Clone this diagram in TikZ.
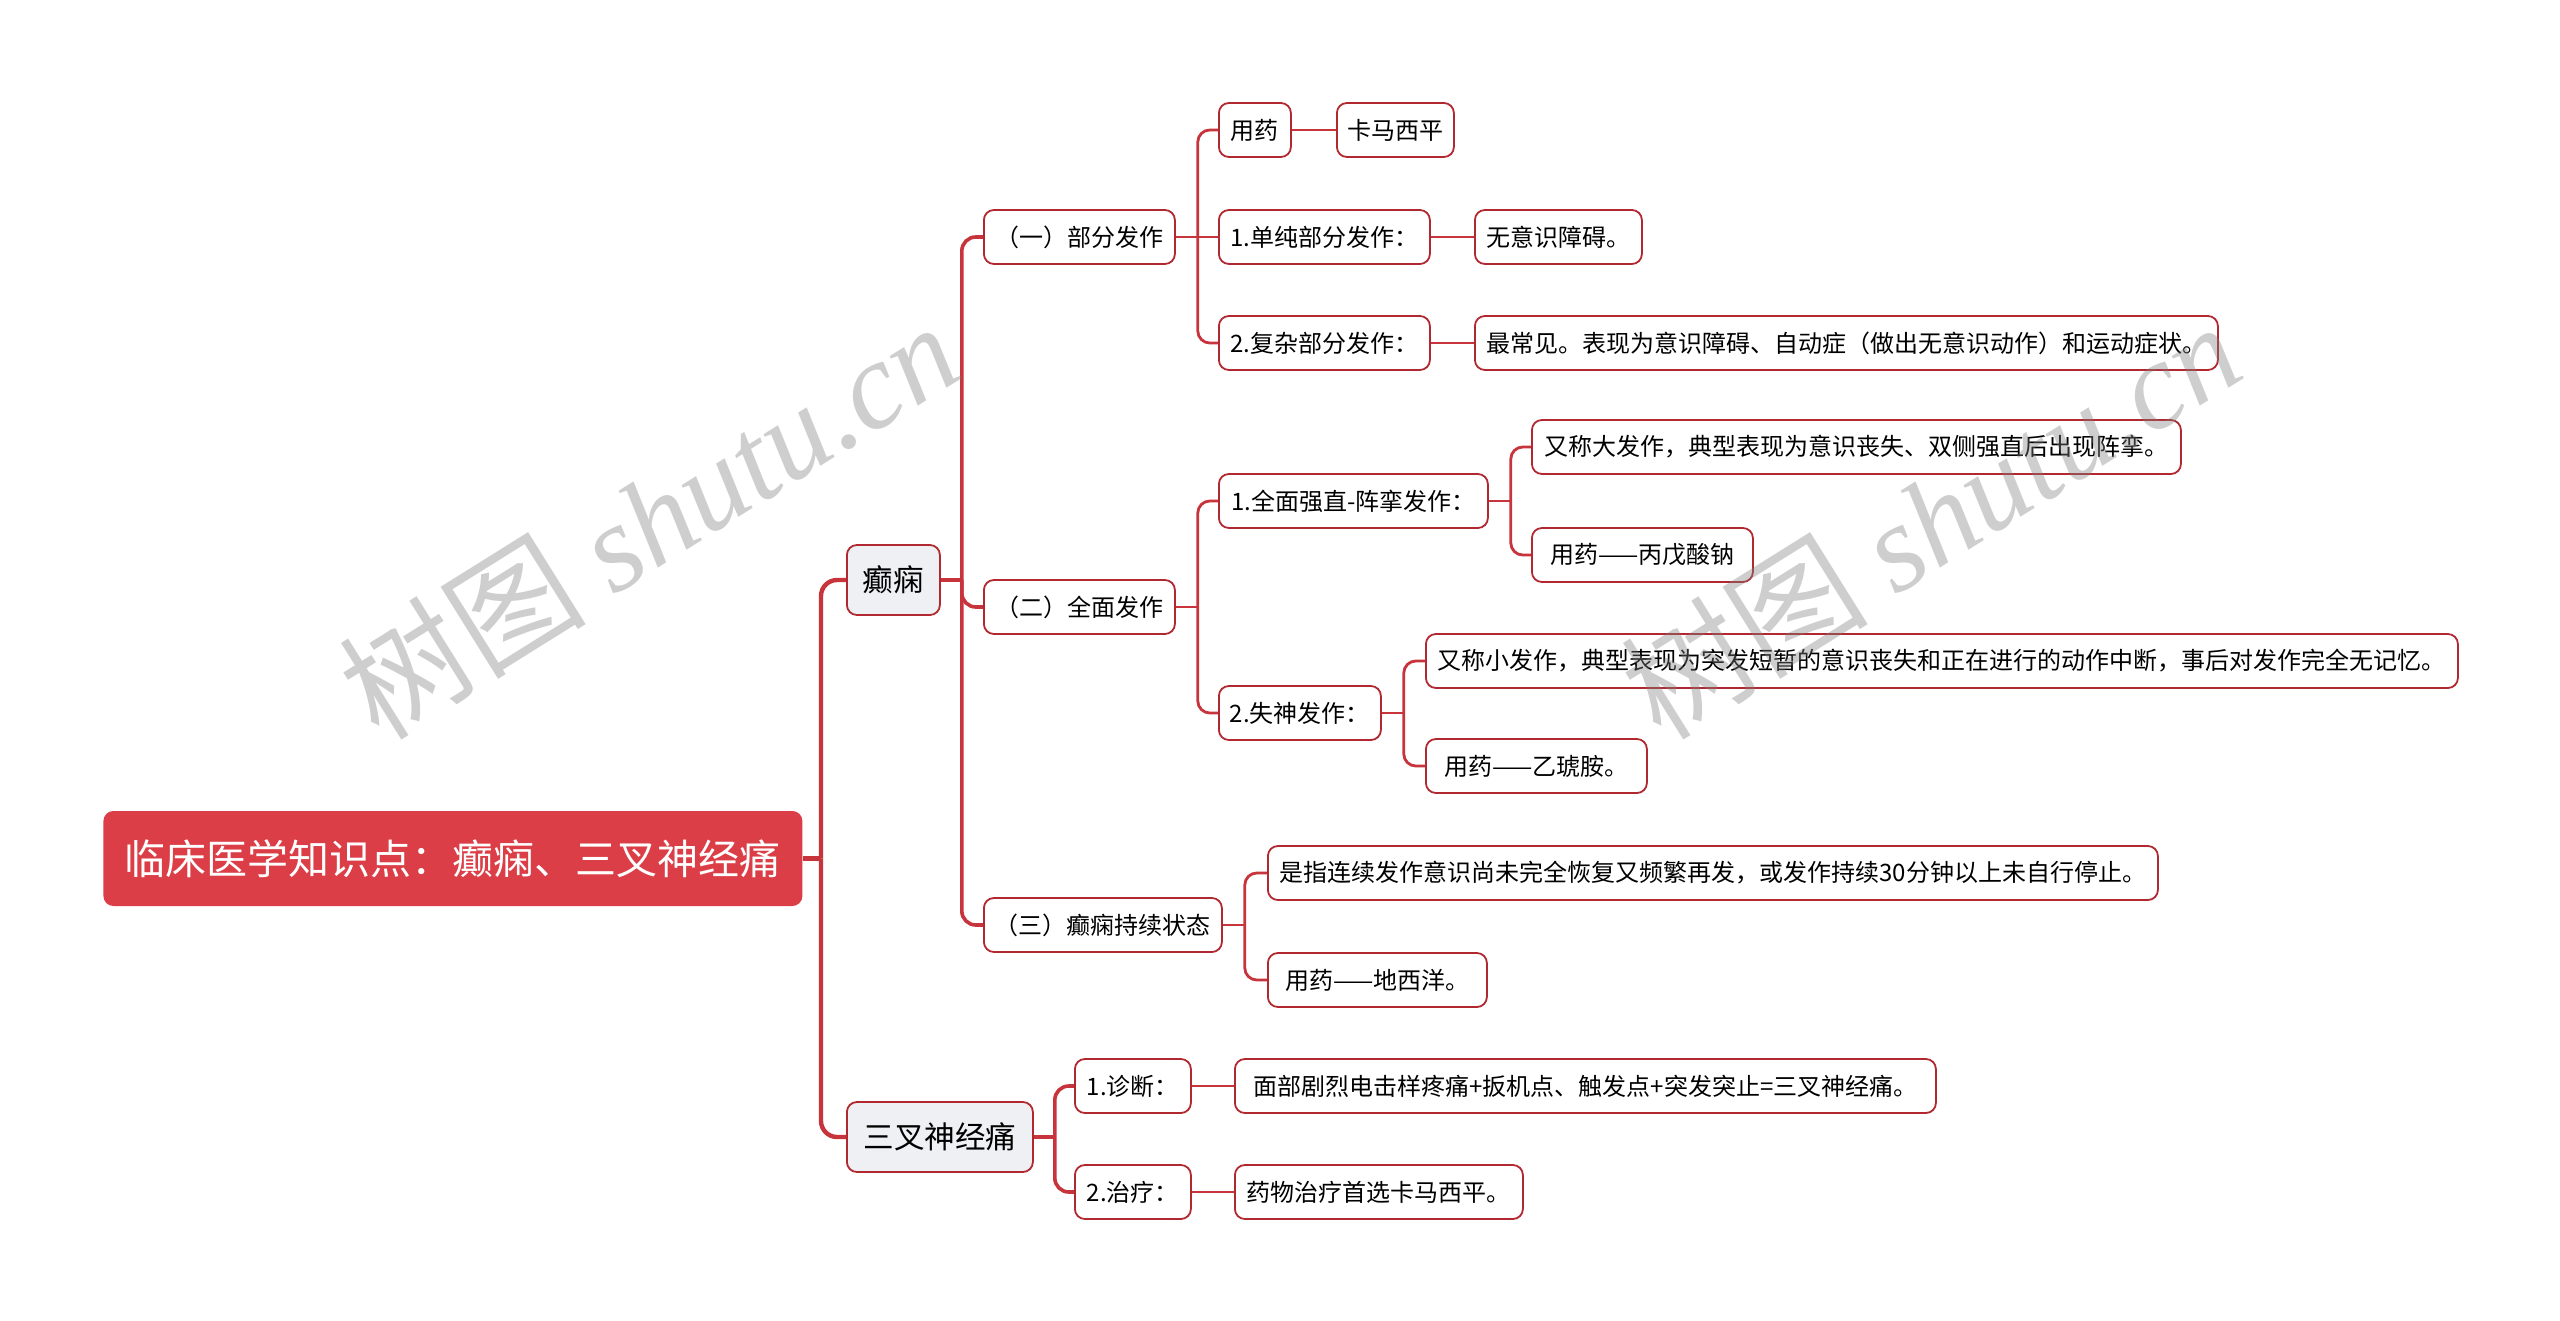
\documentclass[tikz,border=0pt]{standalone}
\usepackage{fontspec}
\setmainfont{Noto Sans CJK SC}
\newfontfamily\wmlatin{Liberation Serif}
\newfontfamily\wmcjk{Noto Sans CJK SC}
\definecolor{rootred}{RGB}{219,62,70}
\definecolor{bordred}{RGB}{178,40,48}
\definecolor{linered}{RGB}{200,52,60}
\definecolor{lvlfill}{RGB}{238,240,244}
\tikzset{
  box/.style={draw=bordred, line width=0.9pt, rounded corners=5pt, fill=white,
    font=\fontsize{12pt}{14pt}\selectfont, minimum height=27pt, inner xsep=5pt, anchor=west},
  lvlone/.style={box, fill=lvlfill, font=\fontsize{15.3pt}{18pt}\selectfont, minimum height=35pt},
  rootbox/.style={draw=none, rounded corners=5pt, fill=rootred, text=white,
    font=\fontsize{20.5pt}{24pt}\selectfont, minimum height=47.5pt, anchor=west},
  czero/.style={draw=linered, line width=2.2pt, rounded corners=8pt},
  cone/.style={draw=linered, line width=1.8pt, rounded corners=7pt},
  ctwo/.style={draw=linered, line width=1.4pt, rounded corners=6pt},
  wm/.style={text=black!50, text opacity=0.38, font=\fontsize{62pt}{70pt}\selectfont, inner sep=0pt}
}
\begin{document}
\begin{tikzpicture}[x=0.5pt,y=-0.5pt]
\useasboundingbox (0,0) rectangle (2560,1321);
\fill[white] (0,0) rectangle (2560,1321);

% connectors (drawn first, nodes on top)
\coordinate (rT) at (821,858.5);

% nodes
\node[rootbox, minimum width=349.5pt] (r) at (103,858.5) {临床医学知识点：癫痫、三叉神经痛};
\node[lvlone, minimum width=46.5pt] (a) at (846,580) {癫痫};
\node[lvlone, minimum width=93pt] (b) at (846,1137) {三叉神经痛};

\node[box, minimum width=95.5pt] (a1) at (983,237) {（一）部分发作};
\node[box, minimum width=95.5pt] (a2) at (983,607) {（二）全面发作};
\node[box, minimum width=119pt] (a3) at (983,925) {（三）癫痫持续状态};

\node[box, minimum width=36pt] (a11) at (1218,130) {用药};
\node[box, minimum width=58.5pt] (a111) at (1336,130) {卡马西平};
\node[box, minimum width=105.5pt] (a12) at (1218,237) {1.单纯部分发作：};
\node[box, minimum width=83.5pt] (a121) at (1474,237) {无意识障碍。};
\node[box, minimum width=105.5pt] (a13) at (1218,343) {2.复杂部分发作：};
\node[box, minimum width=371.5pt] (a131) at (1474,343) {最常见。表现为意识障碍、自动症（做出无意识动作）和运动症状。};

\node[box, minimum width=134.5pt] (a21) at (1218,501) {1.全面强直-阵挛发作：};
\node[box, minimum width=324.5pt] (a211) at (1531,447) {又称大发作，典型表现为意识丧失、双侧强直后出现阵挛。};
\node[box, minimum width=110.5pt] (a212) at (1531,555) {用药——丙戊酸钠};
\node[box, minimum width=81pt] (a22) at (1218,713) {2.失神发作：};
\node[box, minimum width=516pt] (a221) at (1425,661) {又称小发作，典型表现为突发短暂的意识丧失和正在进行的动作中断，事后对发作完全无记忆。};
\node[box, minimum width=110.5pt] (a222) at (1425,766) {用药——乙琥胺。};

\node[box, minimum width=445pt] (a31) at (1267,873) {是指连续发作意识尚未完全恢复又频繁再发，或发作持续30分钟以上未自行停止。};
\node[box, minimum width=109.5pt] (a32) at (1267,980) {用药——地西洋。};

\node[box, minimum width=58pt] (b1) at (1074,1086) {1.诊断：};
\node[box, minimum width=350.5pt] (b11) at (1234,1086) {面部剧烈电击样疼痛+扳机点、触发点+突发突止=三叉神经痛。};
\node[box, minimum width=58pt] (b2) at (1074,1192) {2.治疗：};
\node[box, minimum width=144pt] (b21) at (1234,1192) {药物治疗首选卡马西平。};

% connectors
\draw[czero] (r.east) -- (rT);
\draw[czero] (rT) |- (a.west);
\draw[czero] (rT) |- (b.west);

\draw[cone] (a.east) -- ++(21,0) coordinate (aT);
\draw[cone] (aT) |- (a1.west);
\draw[cone] (aT) |- (a2.west);
\draw[cone] (aT) |- (a3.west);

\draw[cone] (b.east) -- ++(21,0) coordinate (bT);
\draw[cone] (bT) |- (b1.west);
\draw[cone] (bT) |- (b2.west);

\draw[ctwo] (a1.east) -- ++(22,0) coordinate (a1T);
\draw[ctwo] (a1T) |- (a11.west);
\draw[ctwo] (a1T) -- (a12.west);
\draw[ctwo] (a1T) |- (a13.west);
\draw[ctwo] (a11.east) -- (a111.west);
\draw[ctwo] (a12.east) -- (a121.west);
\draw[ctwo] (a13.east) -- (a131.west);

\draw[ctwo] (a2.east) -- ++(22,0) coordinate (a2T);
\draw[ctwo] (a2T) |- (a21.west);
\draw[ctwo] (a2T) |- (a22.west);

\draw[ctwo] (a21.east) -- ++(22,0) coordinate (a21T);
\draw[ctwo] (a21T) |- (a211.west);
\draw[ctwo] (a21T) |- (a212.west);

\draw[ctwo] (a22.east) -- ++(22,0) coordinate (a22T);
\draw[ctwo] (a22T) |- (a221.west);
\draw[ctwo] (a22T) |- (a222.west);

\draw[ctwo] (a3.east) -- ++(22,0) coordinate (a3T);
\draw[ctwo] (a3T) |- (a31.west);
\draw[ctwo] (a3T) |- (a32.west);

\draw[ctwo] (b1.east) -- (b11.west);
\draw[ctwo] (b2.east) -- (b21.west);

% watermarks
\node[wm, rotate=32] (wmA) at (648,519) {{\wmcjk 树图} {\wmlatin\itshape shutu.cn}};
\node[wm, rotate=32] (wmB) at (1930,519) {{\wmcjk 树图} {\wmlatin\itshape shutu.cn}};
\end{tikzpicture}
\end{document}
